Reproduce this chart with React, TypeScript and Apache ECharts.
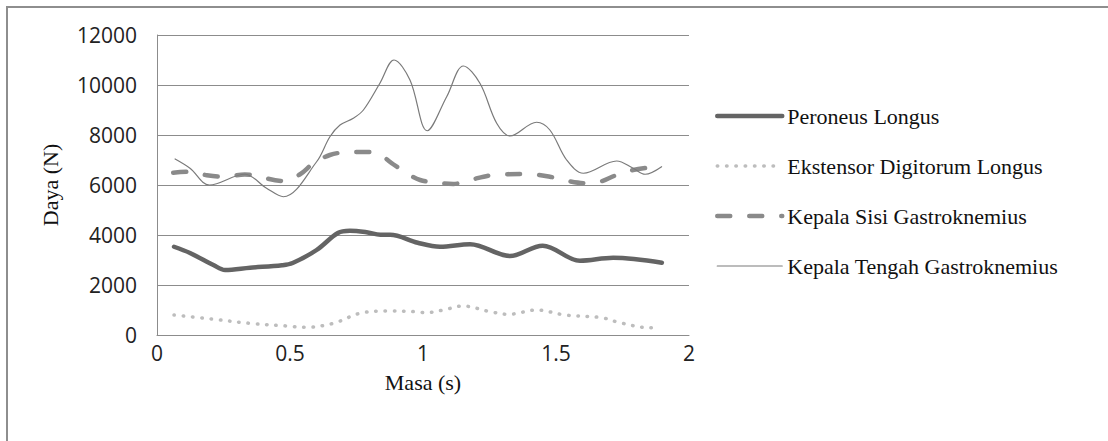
import React, { useEffect, useRef } from "react";
import * as echarts from "echarts";

// Time (s) and force (N) readings per series
const plTime = [0.064, 0.124, 0.212, 0.256, 0.35, 0.47, 0.51, 0.6, 0.68, 0.725, 0.788, 0.84, 0.876, 0.98, 1.064, 1.177, 1.327, 1.45, 1.59, 1.715, 1.898];
const plForce = [3530, 3280, 2800, 2600, 2690, 2790, 2880, 3400, 4080, 4170, 4110, 4010, 4010, 3690, 3530, 3630, 3160, 3570, 2970, 3090, 2890];

const edTime = [0.064, 0.205, 0.35, 0.488, 0.556, 0.663, 0.763, 0.86, 0.976, 1.008, 1.077, 1.149, 1.252, 1.321, 1.427, 1.534, 1.672, 1.74, 1.847, 1.89];
const edForce = [800, 640, 467, 360, 307, 467, 867, 960, 930, 893, 1000, 1160, 933, 827, 1000, 800, 693, 493, 293, 290];

const ksTime = [0.061, 0.124, 0.187, 0.249, 0.33, 0.475, 0.538, 0.588, 0.65, 0.713, 0.788, 0.838, 0.888, 0.939, 0.989, 1.052, 1.114, 1.177, 1.264, 1.39, 1.477, 1.54, 1.615, 1.665, 1.728, 1.79, 1.897];
const ksForce = [6490, 6530, 6390, 6330, 6420, 6160, 6430, 6870, 7200, 7310, 7320, 7200, 6830, 6470, 6200, 6090, 6040, 6200, 6400, 6440, 6330, 6170, 6070, 6130, 6400, 6600, 6760];

const ktTime = [0.068, 0.124, 0.197, 0.33, 0.412, 0.475, 0.6, 0.65, 0.688, 0.738, 0.776, 0.838, 0.891, 0.951, 1.016, 1.089, 1.152, 1.214, 1.277, 1.327, 1.427, 1.477, 1.54, 1.603, 1.728, 1.79, 1.835, 1.897];
const ktForce = [7040, 6670, 6000, 6430, 5870, 5530, 6930, 7930, 8400, 8670, 9000, 10070, 11000, 10200, 8170, 9530, 10760, 10070, 8470, 7960, 8510, 8200, 7000, 6470, 6960, 6670, 6430, 6730];

const seriesNames = [
  "Peroneus Longus",
  "Ekstensor Digitorum Longus",
  "Kepala Sisi Gastroknemius",
  "Kepala Tengah Gastroknemius",
];

const xTicks = [0, 0.5, 1, 1.5, 2];
const yTicks = [0, 2000, 4000, 6000, 8000, 10000, 12000];

const zip = (t: number[], v: number[]) => t.map((x, i) => [x, v[i]]);

const styles: any[] = [
  { color: "#646464", width: 4.5, type: "solid", cap: "round" },
  { color: "#bdbdbd", width: 3.5, type: [0.5, 8.8], cap: "round" },
  { color: "#8a8a8a", width: 4.5, type: [13, 19], cap: "round" },
  { color: "#7a7a7a", width: 1.2, type: "solid", cap: "round" },
];

export default function App() {
  const ref = useRef<HTMLDivElement>(null);
  useEffect(() => {
    if (!ref.current) return;
    const chart = echarts.init(ref.current, undefined, { renderer: "svg" });
    const datas = [zip(plTime, plForce), zip(edTime, edForce), zip(ksTime, ksForce), zip(ktTime, ktForce)];
    chart.setOption({
      animation: false,
      backgroundColor: "#ffffff",
      graphic: [
        {
          type: "rect",
          shape: { x: 7, y: 7, width: 1115, height: 450 },
          style: { fill: "none", stroke: "#8e8e8e", lineWidth: 2 },
          silent: true,
        },
      ],
      grid: { left: 157, top: 35, right: 419, bottom: 106, containLabel: false },
      xAxis: {
        type: "value",
        min: xTicks[0],
        max: xTicks[xTicks.length - 1],
        interval: 0.5,
        name: "Masa (s)",
        nameLocation: "middle",
        nameGap: 36,
        nameTextStyle: { fontFamily: "Liberation Serif", fontSize: 22, color: "#111" },
        axisLine: { show: true, lineStyle: { color: "#8c8c8c", width: 1 } },
        axisTick: { show: false },
        splitLine: { show: false },
        axisLabel: { fontFamily: "Open Sans", fontSize: 21, color: "#222", margin: 7, formatter: (v: number) => String(v) },
      },
      yAxis: {
        type: "value",
        min: yTicks[0],
        max: yTicks[yTicks.length - 1],
        interval: 2000,
        name: "Daya (N)",
        nameLocation: "middle",
        nameGap: 96,
        nameRotate: 90,
        nameTextStyle: { fontFamily: "Liberation Serif", fontSize: 22, color: "#111" },
        axisLine: { show: true, lineStyle: { color: "#8c8c8c", width: 1 } },
        axisTick: { show: false },
        splitLine: { show: true, lineStyle: { color: "#8c8c8c", width: 1 } },
        axisLabel: { fontFamily: "Open Sans", fontSize: 21, color: "#222", margin: 20, formatter: (v: number) => String(v) },
      },
      legend: {
        orient: "vertical",
        left: 710,
        top: 99,
        itemWidth: 65,
        itemHeight: 14,
        itemGap: 26,
        textStyle: { fontFamily: "Liberation Serif", fontSize: 22, color: "#111", lineHeight: 24 },
        data: seriesNames.map((n, i) => ({
          name: n,
          itemStyle: { opacity: 0, color: "rgba(0,0,0,0)", borderWidth: 0 },
          lineStyle: { color: styles[i].color, width: styles[i].width, type: styles[i].type, cap: styles[i].cap },
        })),
      },
      series: seriesNames.map((n, i) => ({
        name: n,
        type: "line",
        data: datas[i],
        smooth: 0.35,
        symbol: "none",
        showSymbol: false,
        color: styles[i].color,
        lineStyle: { color: styles[i].color, width: styles[i].width, type: styles[i].type, cap: styles[i].cap },
        z: [3, 2, 4, 5][i],
      })),
    });
    return () => chart.dispose();
  }, []);
  return (
    <div
      ref={ref}
      style={{ position: "fixed", left: 0, top: 0, width: 1108, height: 441, background: "#fff" }}
    />
  );
}
